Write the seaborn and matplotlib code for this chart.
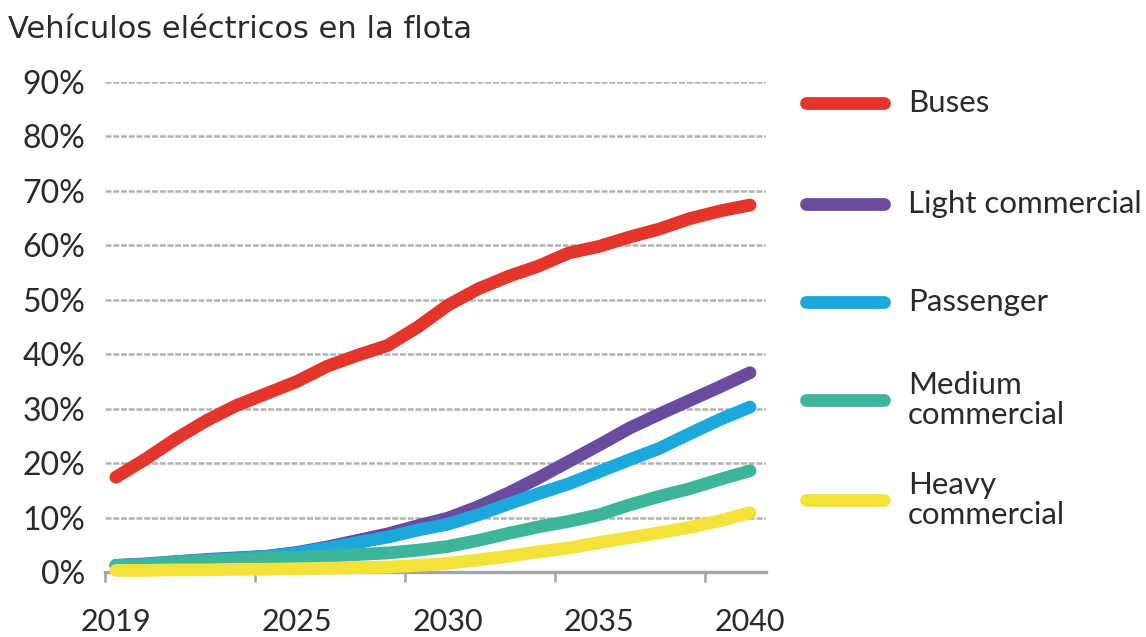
import numpy as np
import pandas as pd
import matplotlib
matplotlib.use("Agg")
import matplotlib.pyplot as plt
from matplotlib.lines import Line2D
import seaborn as sns

# Share of electric vehicles in the fleet, % per year
years = list(range(2019, 2041))
buses = [17.4, 20.8, 24.5, 27.8, 30.6, 32.8, 35.0, 37.8, 39.8, 41.6, 45.0,
         49.0, 52.0, 54.3, 56.2, 58.6, 59.8, 61.5, 63.0, 64.9, 66.3, 67.4]
light_commercial = [1.2, 1.5, 1.9, 2.3, 2.6, 2.9, 3.6, 4.6, 5.8, 7.0, 8.5,
                    9.9, 12.0, 14.5, 17.3, 20.3, 23.3, 26.4, 29.0, 31.5, 34.0, 36.6]
passenger = [1.2, 1.4, 1.9, 2.2, 2.5, 2.9, 3.5, 4.4, 5.4, 6.4, 7.7,
             8.8, 10.5, 12.5, 14.4, 16.2, 18.4, 20.6, 22.7, 25.4, 28.0, 30.3]
medium_commercial = [1.2, 1.4, 1.8, 2.1, 2.3, 2.5, 2.7, 2.9, 3.2, 3.5, 4.0,
                     4.7, 5.8, 7.1, 8.3, 9.3, 10.5, 12.3, 13.9, 15.3, 17.0, 18.6]
heavy_commercial = [0.3, 0.3, 0.4, 0.4, 0.5, 0.5, 0.6, 0.7, 0.8, 0.9, 1.2,
                    1.6, 2.2, 2.9, 3.7, 4.4, 5.4, 6.3, 7.2, 8.2, 9.4, 10.9]

series_names = ["Buses", "Light commercial", "Passenger",
                "Medium commercial", "Heavy commercial"]
legend_labels = ["Buses", "Light commercial", "Passenger",
                 "Medium\ncommercial", "Heavy\ncommercial"]
colors = ["#E4352B", "#6A4B9D", "#1BA8DC", "#3DB59B", "#F3E23A"]
x_tick_years = [2019, 2025, 2030, 2035, 2040]
y_ticks = [0, 10, 20, 30, 40, 50, 60, 70, 80, 90]
title = "Vehículos eléctricos en la flota"

values = [buses, light_commercial, passenger, medium_commercial, heavy_commercial]
df = pd.concat(
    [pd.DataFrame({"year": years, "share": v, "type": name})
     for name, v in zip(series_names, values)],
    ignore_index=True,
)

sns.set_theme(style="white")
plt.rcParams["font.family"] = ["Lato", "DejaVu Sans"]

fig = plt.figure(figsize=(11.46, 6.37), dpi=100)
ax = fig.add_axes([105 / 1146, 65 / 637, 661 / 1146, 490 / 637])

palette = dict(zip(series_names, colors))
sns.lineplot(data=df, x="year", y="share", hue="type", palette=palette,
             hue_order=series_names, linewidth=9.2, legend=False, ax=ax,
             solid_capstyle="round", clip_on=False, zorder=3)

x_left, x_right = 2018.64, 2040.53
ax.set_xlim(x_left, x_right)
ax.set_ylim(0, 90)

# year labels without marks; small marks evenly spaced from the axis start
ax.set_xticks(x_tick_years)
ax.set_xticklabels([str(y) for y in x_tick_years])
ax.set_xticks(x_left + 4.97 * np.arange(5), minor=True)
ax.set_yticks(y_ticks)
ax.set_yticklabels([f"{t}%" for t in y_ticks])

ax.set_xlabel("")
ax.set_ylabel("")

grid_color = "#B2B2B2"
for t in y_ticks[1:]:
    ax.axhline(t, color=grid_color, linewidth=1.8, dashes=(2.4, 0.7), zorder=1)

for s in ["top", "right", "left"]:
    ax.spines[s].set_visible(False)
ax.spines["bottom"].set_color("#A3A2A8")
ax.spines["bottom"].set_linewidth(2.4)
ax.spines["bottom"].set_zorder(2)

ax.tick_params(axis="x", which="major", bottom=True, length=0,
               pad=26, labelsize=22, labelcolor="#2A2A2A")
ax.tick_params(axis="x", which="minor", bottom=True, length=7, width=1.8,
               color="#A3A2A8")
ax.tick_params(axis="y", which="both", left=False, length=0, pad=14,
               labelsize=23, labelcolor="#2A2A2A")

fig.text(8 / 1146, 1 - 38 / 637, title, ha="left", va="baseline",
         fontsize=22, color="#2A2A2A", family=["DejaVu Sans"])

# legend swatches on the right
legend_y = [103, 204, 302, 400, 500]
for lbl, c, yy in zip(legend_labels, colors, legend_y):
    yf = 1 - yy / 637
    fig.add_artist(Line2D([806 / 1146, 884 / 1146], [yf, yf], color=c,
                          linewidth=9.2, solid_capstyle="round",
                          transform=fig.transFigure))
    fig.text(908 / 1146, yf, lbl, ha="left", va="center", fontsize=22.5,
             color="#2A2A2A", linespacing=1.1)

fig.savefig("out.png", dpi=100)
